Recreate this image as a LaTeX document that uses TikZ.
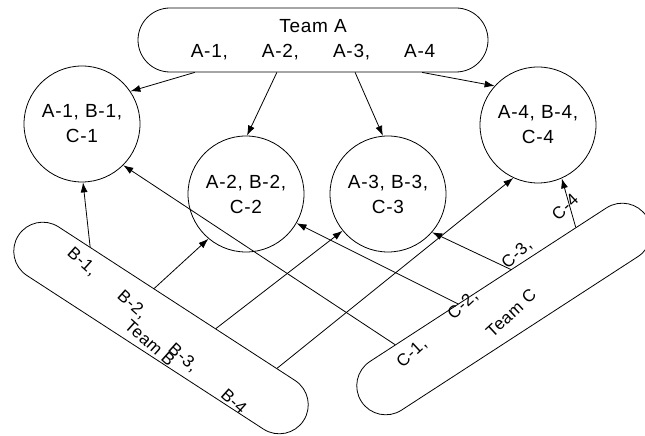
\documentclass[tikz,border=0pt]{standalone}
\usepackage{fontspec}
\setmainfont{Liberation Sans}[LetterSpace=4]
\usepackage{tikz}
\usetikzlibrary{arrows.meta, calc}
\tikzset{
  % Box styles
  teambox/.style={rectangle, rounded corners=29pt, draw, line width=0.8pt, minimum width=340pt, minimum height=58pt, inner sep=0pt},
  groupnode/.style={circle, draw, line width=0.8pt, minimum size=116pt, inner sep=0pt, align=center, font=\fontsize{19}{25}\selectfont},
  memberlabel/.style={font=\fontsize{17}{20}\selectfont, inner sep=1pt},
  % Arrow styles
  arrow/.style={-{Latex[length=10pt, width=7pt]}, line width=0.8pt}
}

\begin{document}
\begin{tikzpicture}[x=1pt, y=1pt]
  \useasboundingbox (0,0) rectangle (645,436);

  % Team A on top
  \node[teambox, rounded corners=32pt, minimum width=350pt, minimum height=64pt, align=center, font=\fontsize{19}{25}\selectfont] (teamA) at (313,396) {Team A\\A-1,\hspace{34pt}A-2,\hspace{34pt}A-3,\hspace{34pt}A-4};

  % Groups
  \node[groupnode] (grp1) at (82,312) {A-1, B-1,\\C-1};
  \node[groupnode] (grp2) at (246,242) {A-2, B-2,\\C-2};
  \node[groupnode] (grp3) at (388,242) {A-3, B-3,\\C-3};
  \node[groupnode] (grp4) at (538,311) {A-4, B-4,\\C-4};

  % Team B, tilted down
  \node[teambox, rotate=-33] (teamB) at (161,108) {};
  \node[memberlabel, rotate=-42] (lblB1) at (82,174) {B-1,};
  \node[memberlabel, rotate=-42] (lblB2) at (132,131) {B-2,};
  \node[memberlabel, rotate=-42] (lblB3) at (183,78) {B-3,};
  \node[memberlabel, rotate=-42] (lblB4) at (234,35) {B-4};
  \node[memberlabel, rotate=-42] (lblB) at (150,93) {Team B};

  % Team C, tilted up
  \node[teambox, rotate=33] (teamC) at (504,127) {};
  \node[memberlabel, rotate=43] (lblC1) at (412,83) {C-1,};
  \node[memberlabel, rotate=43] (lblC2) at (463,131) {C-2,};
  \node[memberlabel, rotate=43] (lblC3) at (517,182) {C-3,};
  \node[memberlabel, rotate=43] (lblC4) at (565,229) {C-4};
  \node[memberlabel, rotate=43] (lblC) at (511,123) {Team C};

  % Where the arrows leave the teams
  \coordinate (a1) at ($(teamA.south west)!0.163!(teamA.south east)$);
  \coordinate (a2) at ($(teamA.south west)!0.397!(teamA.south east)$);
  \coordinate (a3) at ($(teamA.south west)!0.62!(teamA.south east)$);
  \coordinate (a4) at ($(teamA.south west)!0.811!(teamA.south east)$);
  \coordinate (b1) at ($(teamB.north west)!0.196!(teamB.north east)$);
  \coordinate (b2) at ($(teamB.north west)!0.42!(teamB.north east)$);
  \coordinate (b3) at ($(teamB.north west)!0.636!(teamB.north east)$);
  \coordinate (b4) at ($(teamB.north west)!0.85!(teamB.north east)$);
  \coordinate (c1) at ($(teamC.north west)!0.175!(teamC.north east)$);
  \coordinate (c2) at ($(teamC.north west)!0.395!(teamC.north east)$);
  \coordinate (c3) at ($(teamC.north west)!0.58!(teamC.north east)$);
  \coordinate (c4) at ($(teamC.north west)!0.807!(teamC.north east)$);

  % Arrows
  \draw[arrow] (a1) -- (grp1.34);
  \draw[arrow] (a2) -- (grp2.89);
  \draw[arrow] (a3) -- (grp3.95);
  \draw[arrow] (a4) -- (grp4.138);
  \draw[arrow] (b1) -- (grp1.-89);
  \draw[arrow] (b2) -- (grp2.-130);
  \draw[arrow] (b3) -- (grp3.-141);
  \draw[arrow] (b4) -- (grp4.-115);
  \draw[arrow] (c1) -- (grp1.-45);
  \draw[arrow] (c2) -- (grp2.-30);
  \draw[arrow] (c3) -- (grp3.-41);
  \draw[arrow] (c4) -- (grp4.-66);
\end{tikzpicture}
\end{document}
